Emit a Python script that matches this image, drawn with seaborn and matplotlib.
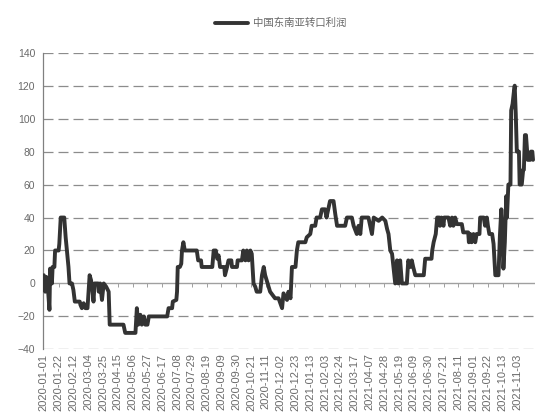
import pandas as pd
import numpy as np
import matplotlib
matplotlib.use("Agg")
import matplotlib.pyplot as plt
import seaborn as sns

# =====================================
# Data
# =====================================

start_date = "2020-01-01"
series_name = "中国东南亚转口利润"

# days since 2020-01-01
day_offsets = [
    0, 2, 3.5, 5, 8, 9, 11.5, 12.5, 15, 16, 21, 22, 24, 29, 31, 35, 36.5, 40,
    42, 44, 51, 52, 54, 56.5, 59, 62, 65, 67, 69, 70.5, 72, 77, 78, 80, 82.5,
    85, 88.5, 92, 93.5, 113, 115.5, 130, 132, 134, 137, 139, 142, 144, 147,
    149, 175, 177, 182, 183, 188, 189, 190, 193, 195, 196, 198, 200, 217, 219,
    223, 224, 239, 241, 244, 246, 248, 250, 256, 257, 260, 262, 266, 267, 274,
    275, 281, 283, 286, 288, 290.5, 293, 295, 297.5, 300, 302, 307, 309.5,
    312, 314, 319, 321, 328, 333, 335.5, 338, 340, 345, 347, 350, 352, 357,
    359, 361, 371, 373, 378, 380, 385, 387, 392, 394.5, 399, 401, 404, 406,
    411, 413.5, 416, 427.5, 430, 437, 439.5, 444, 446.5, 449, 451, 460.5,
    463, 465.5, 468, 475, 480, 484.5, 487, 489, 491.5, 494, 496, 498.5, 501,
    503, 505.5, 508, 515, 517, 520, 522, 524, 527, 539, 541, 550, 551, 553,
    556, 558, 561, 562, 564, 567, 568, 574, 576.5, 579, 581, 583.5, 586, 593,
    595, 602, 603, 605, 607, 609.5, 612, 614, 618, 619, 624, 626, 628.5, 630,
    632, 636, 638, 640.5, 645, 647, 649, 651, 652, 654, 656, 657, 659, 662,
    663, 665, 667, 668, 669.5, 671, 674, 675, 678, 680, 681, 682.5, 684,
    686.5, 690, 691, 693, 694,
]

profit = [
    5, -5, 4, 2, -16, 9, 0, 10, 10, 20, 20, 24, 40, 40, 28, 10, 0, 0,
    -4, -11, -11, -13, -15, -12, -15, -15, 5, 2, -4, -11, 0, 0, -5, 0, -10,
    0, -2, -5, -25, -25, -30, -30, -15, -25, -19, -25, -20, -25, -25,
    -20, -20, -15, -15, -11, -10, -5, 10, 10, 12, 20, 25, 20, 20, 14,
    14, 10, 10, 20, 20, 15, 17, 10, 10, 5, 10, 14, 14, 10, 10,
    14, 14, 20, 14, 20, 14, 20, 18, 0, -2, -5, -5, 5,
    10, 5, -2, -5, -9, -9, -12, -15, -6, -10, -5, -9, 10, 10,
    20, 25, 25, 28, 30, 35, 35, 40, 40, 45, 45, 40, 46, 50,
    50, 42, 35, 35, 40, 40, 35, 30, 35, 30, 40, 40,
    35, 30, 40, 38, 40, 38, 33, 30, 20, 18, 10, 0, 14,
    0, 14, 0, 0, 14, 10, 14, 10, 5, 5, 15, 15, 20, 25,
    30, 40, 40, 35, 40, 35, 40, 40, 35, 40, 35, 40, 36, 36,
    31, 31, 25, 30, 25, 30, 25, 30, 30, 40, 40, 35, 40, 35,
    30, 30, 24, 5, 5, 29, 45, 25, 9, 25, 53, 40, 60, 60,
    105, 109, 117, 120, 103, 80, 80, 60, 60, 69, 69, 90, 90,
    75, 75, 80, 80, 75,
]

tick_start = "2020-01-01"
tick_end = "2021-11-03"
tick_step = "21D"
y_ticks = [-40, -20, 0, 20, 40, 60, 80, 100, 120, 140]

df = pd.DataFrame({
    "date": pd.Timestamp(start_date) + pd.to_timedelta(day_offsets, unit="D"),
    "value": profit,
})

# =====================================
# Style
# =====================================

sns.set_style("white")
plt.rcParams["font.family"] = ["Liberation Sans", "Noto Sans CJK SC", "DejaVu Sans"]

grey_text = "#6a6a6a"
grid_col = "#8c8c8c"
line_col = "#333333"

fig = plt.figure(figsize=(5.5, 4.12), dpi=100)
ax = fig.add_axes([0.079, 0.152, 0.894, 0.72])

# =====================================
# Plot
# =====================================

sns.lineplot(data=df, x="date", y="value", ax=ax, color=line_col,
             linewidth=2.8, label=series_name, legend=False, zorder=3)

for v in y_ticks:
    if v == 0:
        continue
    ax.axhline(v, color=grid_col, linewidth=0.9, linestyle=(0, (8, 4)), zorder=1)
ax.axhline(0, color="#a0a0a0", linewidth=1.0, zorder=2)

x0 = pd.Timestamp(start_date)
ax.set_xlim(x0 - pd.Timedelta(days=0.5), x0 + pd.Timedelta(days=697))
ax.set_ylim(-40, 140)
ax.set_yticks(y_ticks)

ticks = pd.date_range(tick_start, tick_end, freq=tick_step)
ax.set_xticks(ticks)
ax.set_xticklabels([t.strftime("%Y-%m-%d") for t in ticks], rotation=90,
                   fontsize=8, color=grey_text)
ax.tick_params(axis="x", length=0, pad=3)
ax.tick_params(axis="y", direction="out", length=4, width=0.8,
               color="#808080", labelsize=7.5, labelcolor=grey_text, pad=2)

# small tick marks on the zero line
sec = ax.secondary_xaxis(40 / 180)
sec.set_xticks(ticks)
sec.set_xticklabels([])
sec.tick_params(axis="x", direction="out", length=3, width=0.7, color="#a0a0a0")
sec.spines["bottom"].set_visible(False)

for side in ["top", "right", "bottom"]:
    ax.spines[side].set_visible(False)
ax.spines["left"].set_color("#808080")
ax.spines["left"].set_linewidth(0.9)

ax.set_xlabel("")
ax.set_ylabel("")

handles, labels = ax.get_legend_handles_labels()
leg = fig.legend(handles, labels, loc="center", bbox_to_anchor=(0.51, 0.944),
                 frameon=False, fontsize=7.5, handlelength=3.2, handletextpad=0.4)
for t in leg.get_texts():
    t.set_color(grey_text)

fig.savefig("out.png", dpi=100)
plt.close(fig)
